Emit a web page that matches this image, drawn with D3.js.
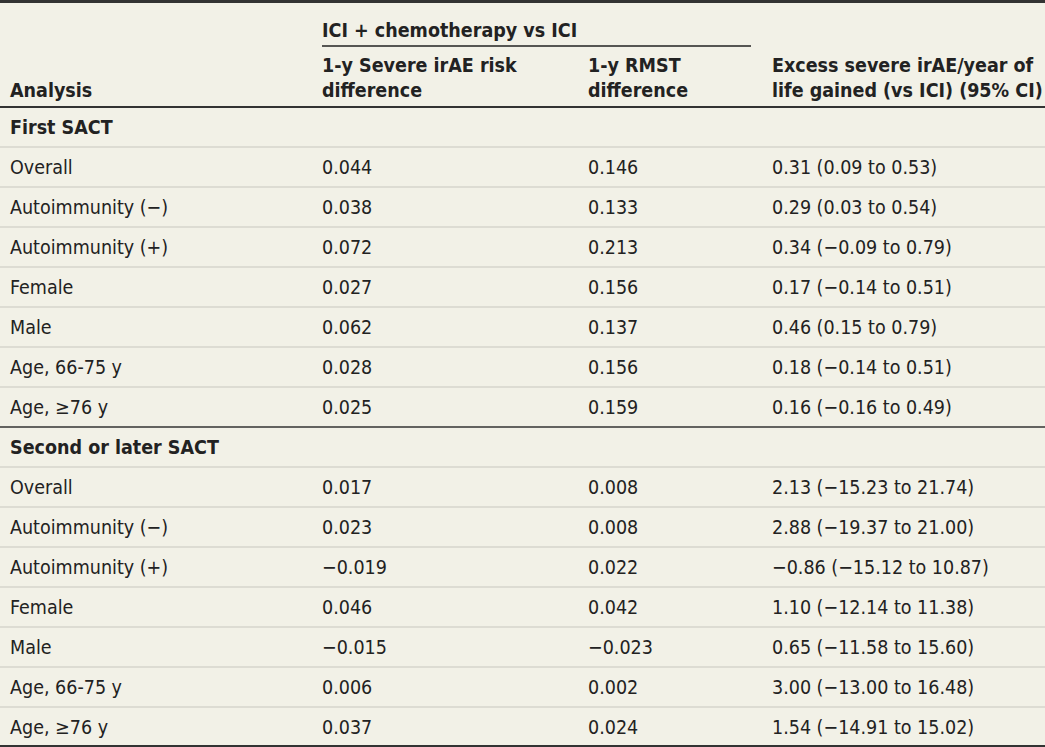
<!DOCTYPE html><html><head><meta charset="utf-8"><script src="https://cdn.jsdelivr.net/npm/d3@7"></script>
<style>body{margin:0;background:#f2f1e7}</style></head><body><svg id="c" width="1045" height="747"></svg>
<script>
const groups=["First SACT","Second or later SACT"];
const labels=["Overall","Autoimmunity (−)","Autoimmunity (+)","Female","Male","Age, 66-75 y","Age, ≥76 y"];
const riskDiff=[["0.044","0.038","0.072","0.027","0.062","0.028","0.025"],["0.017","0.023","−0.019","0.046","−0.015","0.006","0.037"]];
const rmstDiff=[["0.146","0.133","0.213","0.156","0.137","0.156","0.159"],["0.008","0.008","0.022","0.042","−0.023","0.002","0.024"]];
const excess=[["0.31 (0.09 to 0.53)","0.29 (0.03 to 0.54)","0.34 (−0.09 to 0.79)","0.17 (−0.14 to 0.51)","0.46 (0.15 to 0.79)","0.18 (−0.14 to 0.51)","0.16 (−0.16 to 0.49)"],
["2.13 (−15.23 to 21.74)","2.88 (−19.37 to 21.00)","−0.86 (−15.12 to 10.87)","1.10 (−12.14 to 11.38)","0.65 (−11.58 to 15.60)","3.00 (−13.00 to 16.48)","1.54 (−14.91 to 15.02)"]];
const svg=d3.select("#c");
const F="'DejaVu Sans Condensed','Liberation Sans Narrow','Roboto Condensed',sans-serif";
svg.append("rect").attr("width",1045).attr("height",747).attr("fill","#f2f1e7");
const rows=[];
groups.forEach((g,gi)=>{rows.push({type:"g",text:g});labels.forEach((l,i)=>rows.push({type:"r",cells:[l,riskDiff[gi][i],rmstDiff[gi][i],excess[gi][i]]}));});
const y=d3.scaleBand().domain(d3.range(rows.length)).range([107,747]);
const cx=[10,322,588,772];
const t=(x,yy,s,b)=>{const e=svg.append("text").attr("x",x).attr("y",yy).text(s).attr("font-family",F).attr("font-size",19.5).attr("fill","#222");if(b)e.attr("font-weight","bold");return e;};
t(322,37,"ICI + chemotherapy vs ICI",1);
svg.append("line").attr("x1",322).attr("x2",751).attr("y1",46).attr("y2",46).attr("stroke","#222").attr("stroke-width",1.3);
t(322,72,"1-y Severe irAE risk",1);t(322,97,"difference",1);
t(588,72,"1-y RMST",1);t(588,97,"difference",1);
t(772,72,"Excess severe irAE/year of",1);t(772,97,"life gained (vs ICI) (95% CI)",1);
t(10,97,"Analysis",1);
rows.forEach((r,i)=>{
  const yy=y(i)+y.bandwidth()/2+7;
  if(r.type==="g") t(10,yy,r.text,1);
  else r.cells.forEach((c,j)=>t(cx[j],yy,c));
  if(i>0){const dark=(i===8);svg.append("line").attr("x1",0).attr("x2",1045).attr("y1",y(i)).attr("y2",y(i)).attr("stroke",dark?"#333":"#c8c8c0").attr("stroke-width",dark?1.5:1.2);}
});
svg.append("line").attr("x1",0).attr("x2",1045).attr("y1",1.5).attr("y2",1.5).attr("stroke","#333").attr("stroke-width",3);
svg.append("line").attr("x1",0).attr("x2",1045).attr("y1",107).attr("y2",107).attr("stroke","#333").attr("stroke-width",1.8);
svg.append("line").attr("x1",0).attr("x2",1045).attr("y1",746).attr("y2",746).attr("stroke","#333").attr("stroke-width",1.8);
</script></body></html>
